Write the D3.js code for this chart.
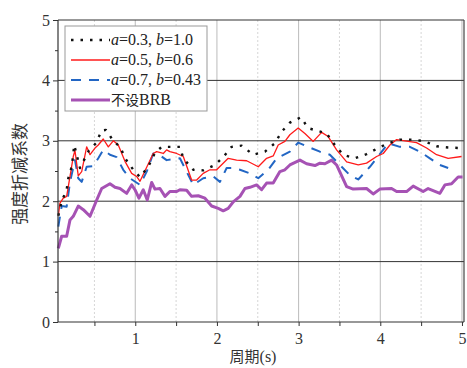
<!DOCTYPE html>
<html><head><meta charset="utf-8">
<script src="https://cdn.jsdelivr.net/npm/d3@7"></script>
<style>body{margin:0;background:#fff;}svg{display:block;}</style>
</head><body>
<svg id="c" width="467" height="368"></svg>
<script>
const xTicks = [1,2,3,4,5];
const yTicks = [0,1,2,3,4,5];
const seriesNames = ["a=0.3, b=1.0","a=0.5, b=0.6","a=0.7, b=0.43","不设BRB"];
const s1 = [[0.058,1.76],[0.099,2.0],[0.160,2.19],[0.180,2.38],[0.222,2.57],[0.253,2.93],[0.323,2.55],[0.433,2.84],[0.519,2.96],[0.589,3.17],[0.641,3.18],[0.731,3.00],[0.813,2.90],[0.886,2.69],[0.976,2.52],[1.058,2.40],[1.159,2.57],[1.241,2.80],[1.323,2.90],[1.424,2.90],[1.547,2.90],[1.588,2.71],[1.710,2.52],[1.832,2.51],[1.976,2.60],[2.077,2.73],[2.180,2.90],[2.302,2.92],[2.444,2.77],[2.588,2.82],[2.710,2.96],[2.792,3.15],[2.893,3.30],[3.028,3.39],[3.117,3.21],[3.343,3.12],[3.444,2.93],[3.546,2.77],[3.689,2.71],[3.832,2.78],[3.974,2.88],[4.097,2.96],[4.240,3.02],[4.403,3.02],[4.546,2.99],[4.689,2.91],[4.831,2.89],[4.974,2.88]];
const s2 = [[0.058,1.76],[0.078,1.97],[0.119,2.05],[0.160,2.08],[0.201,2.41],[0.241,2.74],[0.262,2.84],[0.302,2.42],[0.344,2.49],[0.405,2.90],[0.446,2.77],[0.507,2.88],[0.547,2.93],[0.608,3.03],[0.670,2.90],[0.731,3.00],[0.792,2.93],[0.874,2.66],[0.956,2.46],[1.017,2.41],[1.058,2.33],[1.220,2.79],[1.262,2.82],[1.343,2.79],[1.384,2.85],[1.424,2.82],[1.507,2.79],[1.588,2.74],[1.690,2.35],[1.752,2.35],[1.832,2.46],[1.914,2.52],[1.996,2.52],[2.138,2.71],[2.241,2.68],[2.364,2.67],[2.465,2.60],[2.506,2.57],[2.608,2.71],[2.689,2.75],[2.750,2.93],[2.832,2.99],[2.893,3.10],[2.995,3.21],[3.077,3.12],[3.179,2.99],[3.282,3.14],[3.362,3.07],[3.465,2.85],[3.588,2.65],[3.730,2.60],[3.832,2.63],[3.955,2.74],[4.036,2.79],[4.118,2.93],[4.200,3.02],[4.301,3.00],[4.444,2.97],[4.567,2.88],[4.689,2.77],[4.831,2.71],[4.995,2.74]];
const s3 = [[0.058,1.58],[0.099,1.92],[0.160,1.91],[0.201,2.32],[0.262,2.68],[0.302,2.38],[0.344,2.32],[0.405,2.57],[0.486,2.58],[0.547,2.71],[0.608,2.85],[0.690,2.77],[0.772,2.73],[0.853,2.52],[0.935,2.38],[1.058,2.27],[1.140,2.49],[1.220,2.79],[1.302,2.76],[1.384,2.68],[1.547,2.71],[1.629,2.49],[1.710,2.27],[1.832,2.38],[1.955,2.41],[2.037,2.32],[2.119,2.55],[2.180,2.55],[2.282,2.52],[2.404,2.46],[2.506,2.38],[2.628,2.52],[2.731,2.71],[2.893,2.82],[2.995,2.97],[3.117,2.90],[3.261,2.82],[3.383,2.77],[3.506,2.60],[3.628,2.43],[3.730,2.36],[3.873,2.57],[3.955,2.71],[4.097,2.96],[4.240,2.90],[4.362,2.90],[4.485,2.82],[4.607,2.71],[4.730,2.60],[4.831,2.55]];
const s4 = [[0.058,1.22],[0.099,1.42],[0.160,1.42],[0.201,1.69],[0.241,1.75],[0.302,1.92],[0.364,1.86],[0.446,1.75],[0.528,2.02],[0.589,2.21],[0.690,2.29],[0.752,2.23],[0.813,2.21],[0.895,2.13],[0.956,2.27],[0.996,2.19],[1.045,2.05],[1.098,2.19],[1.147,2.02],[1.201,2.31],[1.241,2.20],[1.302,2.21],[1.364,2.08],[1.424,2.16],[1.507,2.16],[1.547,2.19],[1.629,2.18],[1.690,2.08],[1.771,2.09],[1.853,2.05],[1.935,1.92],[2.016,1.88],[2.077,1.84],[2.138,1.88],[2.200,1.99],[2.282,2.08],[2.343,2.21],[2.404,2.23],[2.486,2.27],[2.547,2.19],[2.608,2.30],[2.689,2.30],[2.771,2.49],[2.832,2.52],[2.893,2.60],[3.016,2.68],[3.098,2.62],[3.200,2.59],[3.261,2.63],[3.322,2.62],[3.404,2.68],[3.465,2.60],[3.588,2.24],[3.668,2.20],[3.832,2.21],[3.913,2.12],[3.995,2.20],[4.138,2.21],[4.200,2.16],[4.322,2.16],[4.403,2.25],[4.525,2.16],[4.586,2.21],[4.730,2.13],[4.791,2.27],[4.873,2.29],[4.953,2.40],[5.007,2.40]];

const svg = d3.select("#c");
const L = 58, R = 464, T = 20, B = 322;
const x = d3.scaleLinear().domain([0.054, 5.025]).range([L, R]);
const y = d3.scaleLinear().domain([0, 5]).range([B, T]);
const serif = "'Liberation Serif','Times New Roman',serif";
const cjk = "'Noto Sans CJK SC',sans-serif";

// vertical grid
const minorX = d3.range(0.5, 5, 1);
svg.append("g").selectAll("line").data(minorX).join("line")
  .attr("x1", d => x(d)).attr("x2", d => x(d)).attr("y1", T).attr("y2", B)
  .attr("stroke", "#ccc").attr("stroke-width", 0.8).attr("stroke-dasharray", "2,2");
svg.append("g").selectAll("line").data(xTicks).join("line")
  .attr("x1", d => x(d)).attr("x2", d => x(d)).attr("y1", T).attr("y2", B)
  .attr("stroke", "#bbb").attr("stroke-width", 1);
// horizontal grid
svg.append("g").selectAll("line").data([1,2,3,4]).join("line")
  .attr("x1", L).attr("x2", R).attr("y1", d => y(d)).attr("y2", d => y(d))
  .attr("stroke", "#333").attr("stroke-width", 1);

// frame top/right
svg.append("line").attr("x1", L).attr("x2", R).attr("y1", T).attr("y2", T).attr("stroke", "#333").attr("stroke-width", 1.2);
svg.append("line").attr("x1", R).attr("x2", R).attr("y1", T).attr("y2", B).attr("stroke", "#444").attr("stroke-width", 1.2);

// series
const line = d3.line().x(d => x(d[0])).y(d => y(d[1]));
const styles = [
  {data: s1, color: "#111", w: 2.4, dash: "2.5,7"},
  {data: s2, color: "#ff1a1a", w: 1.3, dash: null},
  {data: s3, color: "#2266c4", w: 2, dash: "10,8"},
  {data: s4, color: "#a652b4", w: 3, dash: null}
];
[3,2,1,0].forEach(i => {
  const s = styles[i];
  svg.append("path").datum(s.data).attr("d", line)
    .attr("fill", "none").attr("stroke", s.color).attr("stroke-width", s.w)
    .attr("stroke-dasharray", s.dash).attr("stroke-linejoin", "round");
});

// axes
const xAxis = d3.axisBottom(x).tickValues(d3.range(0.5, 5.01, 0.5)).tickSize(4)
  .tickFormat(d => Number.isInteger(d) ? d : "");
const gx = svg.append("g").attr("transform", `translate(0,${B})`).call(xAxis);
gx.select(".domain").attr("stroke", "#333").attr("stroke-width", 1.2).attr("d", `M${L},0H${R}`);
gx.selectAll(".tick line").attr("stroke", "#333");
gx.selectAll("text").attr("font-family", serif).attr("font-size", 16).attr("fill", "#333").attr("dy", "0.95em");

const yAxis = d3.axisLeft(y).tickValues(d3.range(0, 5.01, 0.5)).tickSize(5)
  .tickFormat(d => Number.isInteger(d) ? d : "");
const gy = svg.append("g").attr("transform", `translate(${L},0)`).call(yAxis);
gy.select(".domain").attr("stroke", "#333").attr("stroke-width", 1.2).attr("d", `M0,${T}V${B}`);
gy.selectAll(".tick line").attr("stroke", "#333").attr("x2", d => Number.isInteger(d) ? -5 : -3);
gy.selectAll("text").attr("font-family", serif).attr("font-size", 16).attr("fill", "#333").attr("x", -8);

// titles
svg.append("text").attr("transform", "translate(26,174) rotate(-90)").attr("text-anchor", "middle")
  .attr("font-family", cjk).attr("font-size", 17).attr("fill", "#333").text("强度折减系数");
const xt = svg.append("text").attr("x", 253).attr("y", 362).attr("text-anchor", "middle")
  .attr("font-size", 15).attr("fill", "#333");
xt.append("tspan").attr("font-family", cjk).text("周期");
xt.append("tspan").attr("font-family", serif).attr("font-size", 16).text("(s)");

// legend
const lg = svg.append("g");
lg.append("rect").attr("x", 65).attr("y", 26).attr("width", 142).attr("height", 85)
  .attr("fill", "#fff").attr("stroke", "#999").attr("stroke-width", 1);
const labels = [
  [["a", true, serif], ["=0.3, ", false, serif], ["b", true, serif], ["=1.0", false, serif]],
  [["a", true, serif], ["=0.5, ", false, serif], ["b", true, serif], ["=0.6", false, serif]],
  [["a", true, serif], ["=0.7, ", false, serif], ["b", true, serif], ["=0.43", false, serif]],
  [["不设", false, cjk], ["BRB", false, serif]]
];
styles.forEach((s, i) => {
  const yy = 40 + i * 20;
  lg.append("line").attr("x1", 71).attr("x2", 110).attr("y1", yy).attr("y2", yy)
    .attr("stroke", s.color).attr("stroke-width", s.w).attr("stroke-dasharray", s.dash);
  const t = lg.append("text").attr("x", 111).attr("y", yy + 5)
    .attr("font-size", 15).attr("fill", "#222");
  labels[i].forEach(p => {
    t.append("tspan").attr("font-style", p[1] ? "italic" : "normal")
      .attr("font-family", p[2]).attr("font-size", p[2] === cjk ? 14 : 16).text(p[0]);
  });
});
</script>
</body></html>
